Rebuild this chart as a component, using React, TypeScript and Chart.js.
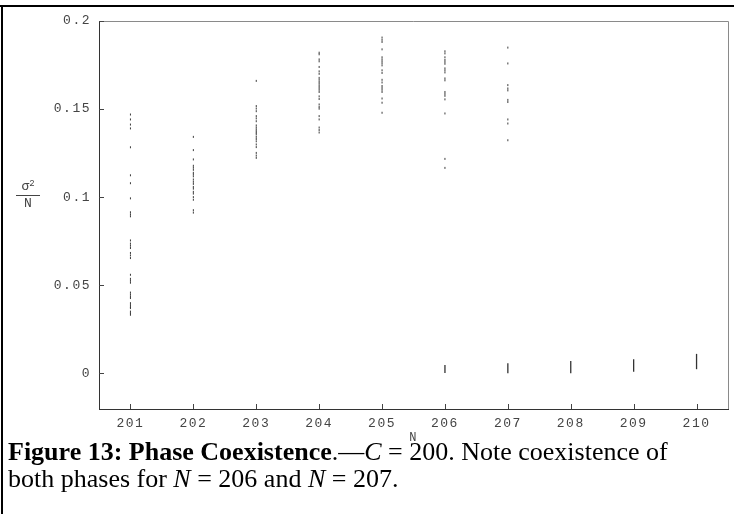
import React, { useEffect, useRef } from "react";
import { Chart, registerables } from "chart.js";

Chart.register(...registerables);

// Categories (N) and tick labels
const xTickValues = [201, 202, 203, 204, 205, 206, 207, 208, 209, 210];
const yTickValues = [0, 0.05, 0.1, 0.15, 0.2];
const yTickLabels = ["0", "0.05", "0.1", "0.15", "0.2"];

// Individual sigma^2/N samples, per N
const values201 = [
  0.1469, 0.1441, 0.1412, 0.139, 0.1283, 0.1124, 0.1079, 0.0993, 0.0914, 0.0902,
  0.0891, 0.0754, 0.0736, 0.0724, 0.0711, 0.0683, 0.0669, 0.0654, 0.0559, 0.0536,
  0.0525, 0.0514, 0.0458, 0.0447, 0.0436, 0.0427, 0.0398, 0.0387, 0.0376, 0.037,
  0.035, 0.0341, 0.0332,
];
const values202 = [
  0.1342, 0.1267, 0.1214, 0.1178, 0.1167, 0.1155, 0.1138, 0.1129, 0.1118, 0.11,
  0.1087, 0.1075, 0.1058, 0.1048, 0.103, 0.102, 0.1, 0.0985, 0.0926, 0.0912,
];
const values203 = [
  0.166, 0.1517, 0.1503, 0.1488, 0.146, 0.1447, 0.1431, 0.1407, 0.1395, 0.1384,
  0.1374, 0.1365, 0.1356, 0.1342, 0.133, 0.1317, 0.1299, 0.1284, 0.1251, 0.1236,
  0.1223,
];
const values204 = [
  0.182, 0.1811, 0.1782, 0.1771, 0.1739, 0.1714, 0.17, 0.1677, 0.1666, 0.1654,
  0.1643, 0.1631, 0.162, 0.1609, 0.1597, 0.1572, 0.1557, 0.1526, 0.1512, 0.1502,
  0.146, 0.1441, 0.1395, 0.1381, 0.1367,
];
const values205 = [
  0.1906, 0.1893, 0.1881, 0.1839, 0.1794, 0.1782, 0.1771, 0.176, 0.1748, 0.172,
  0.1705, 0.1666, 0.1651, 0.1631, 0.162, 0.1609, 0.1597, 0.156, 0.1536, 0.1479,
];
const values206 = [
  0.1828, 0.1816, 0.1794, 0.1779, 0.1768, 0.1757, 0.1731, 0.172, 0.1708, 0.1674,
  0.1663, 0.1597, 0.1586, 0.1575, 0.1555, 0.1475, 0.1217, 0.1166,
];
const values207 = [
  0.1849, 0.1759, 0.1636, 0.1617, 0.1606, 0.1552, 0.154, 0.1441, 0.1418, 0.1323,
];

// Low-variance phase: dense runs drawn as short vertical strokes
const lowPhaseN = [206, 207, 208, 209, 210];
const lowPhaseMin = [0.0002, 0.0, 0.0, 0.0009, 0.0023];
const lowPhaseMax = [0.0047, 0.0057, 0.007, 0.008, 0.011];

const samplesByN: [number, number[]][] = [
  [201, values201],
  [202, values202],
  [203, values203],
  [204, values204],
  [205, values205],
  [206, values206],
  [207, values207],
];

const TICK_FONT = "'Liberation Mono', 'DejaVu Sans Mono', monospace";

const framePlugin = {
  id: "frameTicks",
  afterDraw(chart: any) {
    const { ctx, chartArea: a, scales } = chart;
    const x = scales.x;
    const y = scales.y;
    ctx.save();
    ctx.strokeStyle = "#8a8a8a";
    ctx.lineWidth = 1;
    ctx.beginPath();
    ctx.moveTo(a.left, Math.round(a.top) + 0.5);
    ctx.lineTo(Math.round(a.right) + 0.5, Math.round(a.top) + 0.5);
    ctx.lineTo(Math.round(a.right) + 0.5, a.bottom);
    ctx.stroke();
    ctx.strokeStyle = "#444";
    ctx.beginPath();
    x.ticks.forEach((t: any) => {
      const px = Math.round(x.getPixelForValue(t.value)) + 0.5;
      ctx.moveTo(px, a.bottom);
      ctx.lineTo(px, a.bottom - 5);
    });
    y.ticks.forEach((t: any) => {
      const py = Math.round(y.getPixelForValue(t.value)) + 0.5;
      ctx.moveTo(a.left, py);
      ctx.lineTo(a.left + 5, py);
    });
    ctx.stroke();
    ctx.restore();
  },
  beforeDraw(chart: any) {
    (chart.ctx as any).letterSpacing = "1.5px";
  },
};

export default function App() {
  const canvasRef = useRef<HTMLCanvasElement | null>(null);

  useEffect(() => {
    const canvas = canvasRef.current;
    if (!canvas) return;

    const dotData = samplesByN.flatMap(([n, vals]) => vals.map((v) => ({ x: n, y: v })));

    const lowDatasets = lowPhaseN.map((n, i) => ({
      type: "line" as const,
      data: [
        { x: n, y: lowPhaseMin[i] },
        { x: n, y: lowPhaseMax[i] },
      ],
      showLine: true,
      borderColor: "#333",
      borderWidth: 1.3,
      pointRadius: 0,
    }));

    const chart = new Chart(canvas, {
      type: "scatter",
      data: {
        datasets: [
          {
            data: dotData,
            pointStyle: "line",
            rotation: 90,
            pointRadius: 1,
            pointHoverRadius: 1,
            borderColor: "#3a3a3a",
            backgroundColor: "#3a3a3a",
            borderWidth: 1,
          } as any,
          ...(lowDatasets as any[]),
        ],
      },
      options: {
        responsive: false,
        animation: false,
        events: [],
        layout: { padding: { top: 21, right: 6, left: 0, bottom: 0 } },
        plugins: {
          legend: { display: false },
          tooltip: { enabled: false },
        },
        scales: {
          x: {
            type: "linear",
            min: 200.5,
            max: 210.5,
            grid: { display: false, drawTicks: false },
            border: { display: true, color: "#333", width: 1 },
            afterBuildTicks: (scale: any) => {
              scale.ticks = xTickValues.map((v) => ({ value: v }));
            },
            afterFit: (scale: any) => {
              scale.height = 36;
            },
            ticks: {
              padding: 7,
              color: "#444",
              font: { family: TICK_FONT, size: 13 },
              maxRotation: 0,
              autoSkip: false,
              callback: (v: any) => String(v),
            },
            title: {
              display: true,
              text: "N",
              color: "#444",
              font: { family: TICK_FONT, size: 12 },
              padding: { top: 0, bottom: 0 },
            },
          },
          y: {
            type: "linear",
            min: -0.0203,
            max: 0.2,
            grid: { display: false, drawTicks: false },
            border: { display: true, color: "#333", width: 1 },
            afterBuildTicks: (scale: any) => {
              scale.ticks = yTickValues.map((v) => ({ value: v }));
            },
            afterFit: (scale: any) => {
              scale.width = 99;
            },
            ticks: {
              padding: 8,
              color: "#444",
              font: { family: TICK_FONT, size: 13 },
              autoSkip: false,
              callback: (v: any) => {
                const i = yTickValues.indexOf(Number(v));
                return i >= 0 ? yTickLabels[i] : "";
              },
            },
          },
        },
      },
      plugins: [framePlugin],
    });

    return () => chart.destroy();
  }, []);

  return (
    <div
      style={{
        position: "absolute",
        left: 0,
        top: 0,
        width: 734,
        height: 514,
        background: "#fff",
        overflow: "hidden",
      }}
    >
      <div
        style={{
          position: "absolute",
          left: 0,
          top: 5,
          width: 734,
          height: 2,
          background: "#000",
        }}
      />
      <div
        style={{
          position: "absolute",
          left: 1,
          top: 5,
          width: 2,
          height: 509,
          background: "#000",
        }}
      />
      <canvas
        ref={canvasRef}
        width={734}
        height={445}
        style={{ position: "absolute", left: 0, top: 0, width: 734, height: 445 }}
      />
      <div
        style={{
          position: "absolute",
          left: 16,
          top: 180,
          width: 24,
          textAlign: "center",
          fontFamily: TICK_FONT,
          fontSize: 13,
          color: "#444",
          lineHeight: "14px",
        }}
      >
        <div>
          σ<sup style={{ fontSize: 9, verticalAlign: "4px", lineHeight: 0 }}>2</sup>
        </div>
        <div style={{ borderTop: "1px solid #444", marginTop: 1, paddingTop: 1 }}>N</div>
      </div>
      <div
        style={{
          position: "absolute",
          left: 8,
          top: 438,
          width: 726,
          whiteSpace: "nowrap",
          fontFamily: "'Liberation Serif', 'Times New Roman', serif",
          fontSize: 26,
          lineHeight: "27px",
          color: "#000",
        }}
      >
        <b>Figure 13: Phase Coexistence</b>.—<i>C</i> = 200. Note coexistence of
        <br />
        both phases for <i>N</i> = 206 and <i>N</i> = 207.
      </div>
    </div>
  );
}
